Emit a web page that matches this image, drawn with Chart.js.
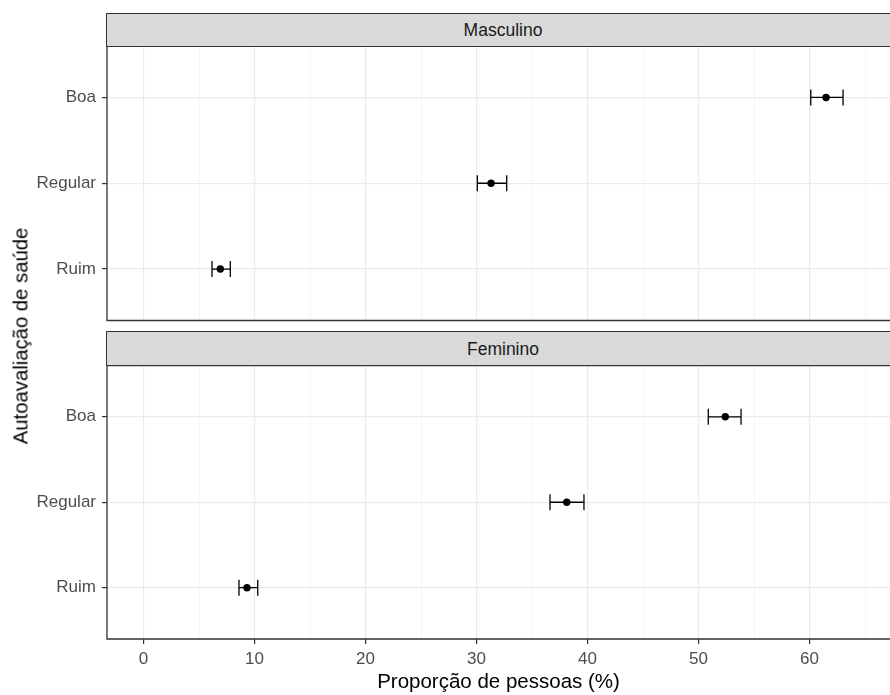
<!DOCTYPE html>
<html><head><meta charset="utf-8">
<script src="https://cdn.jsdelivr.net/npm/chart.js@4"></script>
<style>
html,body{margin:0;padding:0;overflow:hidden;background:#fff;width:890px;height:695px;}
#wrap{position:relative;width:890px;height:695px;overflow:hidden;font-family:"Liberation Sans",Arial,sans-serif;}
canvas{position:absolute;left:0;}
.strip{position:absolute;left:106px;width:794px;box-sizing:border-box;border:1.3px solid #333;background:#D9D9D9;color:#1A1A1A;font-size:17.5px;display:flex;align-items:center;justify-content:center;padding-top:2px;}
#ytitle{position:absolute;left:21px;top:336px;transform:translate(-50%,-50%) rotate(-90deg);white-space:nowrap;font-size:20.3px;color:#000;}
</style>
</head><body>
<div id="wrap">
<canvas id="c1" width="890" height="330" style="top:0;width:890px;height:330px"></canvas>
<canvas id="c2" width="890" height="365" style="top:330px;width:890px;height:365px"></canvas>
<div class="strip" style="top:12.5px;height:34.5px">Masculino</div>
<div class="strip" style="top:330.5px;height:35.5px">Feminino</div>
<div id="ytitle">Autoavaliação de saúde</div>
</div>
<script>
const categories = ['Ruim', 'Regular', 'Boa'];
const categoryPos = [1, 2, 3];
const mascEst  = [6.92, 31.31, 61.49];
const mascLow  = [6.17, 30.07, 60.11];
const mascHigh = [7.82, 32.72, 63.02];
const femEst   = [9.32, 38.13, 52.41];
const femLow   = [8.60, 36.62, 50.88];
const femHigh  = [10.29, 39.68, 53.83];
const xTickLabels = [0, 10, 20, 30, 40, 50, 60];
const xGridValues = [0, 5, 10, 15, 20, 25, 30, 35, 40, 45, 50, 55, 60, 65];
const xLimits = [-3.29, 67.25];
const yLimits = [0.4, 3.6];
const xTitle = 'Proporção de pessoas (%)';

const FONT = '"Liberation Sans", Arial, sans-serif';

const panelBorder = {
  id: 'panelBorder',
  afterDraw(chart) {
    const {ctx, chartArea: a} = chart;
    ctx.save();
    ctx.strokeStyle = '#333333';
    ctx.lineWidth = 1.3;
    ctx.beginPath();
    ctx.moveTo(a.right + 5, a.top);
    ctx.lineTo(a.left, a.top);
    ctx.lineTo(a.left, a.bottom);
    ctx.lineTo(a.right + 5, a.bottom);
    ctx.stroke();
    ctx.restore();
  }
};

function isMajor(v) { return xTickLabels.includes(v); }

function makeChart(id, est, low, high, showX, padding) {
  const datasets = [];
  categories.forEach((c, i) => {
    datasets.push({
      showLine: true,
      data: [{x: low[i], y: categoryPos[i]}, {x: high[i], y: categoryPos[i]}],
      borderColor: '#000', borderWidth: 1.3,
      pointStyle: 'line', pointRotation: 90, pointRadius: 8,
      pointBorderColor: '#000', pointBorderWidth: 1.3,
      order: 1
    });
  });
  datasets.push({
    showLine: false,
    data: est.map((v, i) => ({x: v, y: categoryPos[i]})),
    pointRadius: 3.7, pointBackgroundColor: '#000', pointBorderColor: '#000', pointBorderWidth: 0,
    order: 0
  });

  return new Chart(document.getElementById(id), {
    type: 'scatter',
    data: {datasets},
    plugins: [panelBorder],
    options: {
      responsive: false, animation: false, events: [],
      layout: {padding, autoPadding: false},
      plugins: {legend: {display: false}, tooltip: {enabled: false}},
      scales: {
        x: {
          type: 'linear', min: xLimits[0], max: xLimits[1],
          afterBuildTicks: s => { s.ticks = xGridValues.map(v => ({value: v})); },
          afterFit: s => { s.height = showX ? 56 : 0; s.paddingLeft = 0; s.paddingRight = 0; },
          border: {display: false},
          grid: {
            drawTicks: showX, tickLength: 5,
            color: c => (c.tick && isMajor(c.tick.value)) ? '#EBEBEB' : '#F2F2F2',
            lineWidth: c => (c.tick && isMajor(c.tick.value)) ? 1.2 : 0.7,
            tickColor: c => (c.tick && isMajor(c.tick.value)) ? '#333333' : 'rgba(0,0,0,0)',
            tickWidth: 1.2
          },
          ticks: {
            display: showX, autoSkip: false, maxRotation: 0, padding: 5,
            color: '#4D4D4D', font: {family: FONT, size: 17},
            callback: v => isMajor(v) ? String(v) : ''
          },
          title: {display: showX, text: xTitle, color: '#000', padding: 0, font: {family: FONT, size: 20.5}}
        },
        y: {
          type: 'linear', min: yLimits[0], max: yLimits[1],
          afterBuildTicks: s => { s.ticks = categoryPos.map(v => ({value: v})); },
          afterFit: s => { s.width = 107; s.paddingTop = 0; s.paddingBottom = 0; },
          border: {display: false},
          grid: {color: '#EBEBEB', lineWidth: 1.2, tickColor: '#333333', tickLength: 5, tickWidth: 1.2},
          ticks: {
            padding: 6, color: '#4D4D4D', font: {family: FONT, size: 17},
            callback: (v, i) => categories[i]
          }
        }
      }
    }
  });
}

makeChart('c1', mascEst, mascLow, mascHigh, false, {top: 46, bottom: 9.5, left: 0, right: 0});
makeChart('c2', femEst, femLow, femHigh, true, {top: 35.5, bottom: 0, left: 0, right: 0});
</script>
</body></html>
